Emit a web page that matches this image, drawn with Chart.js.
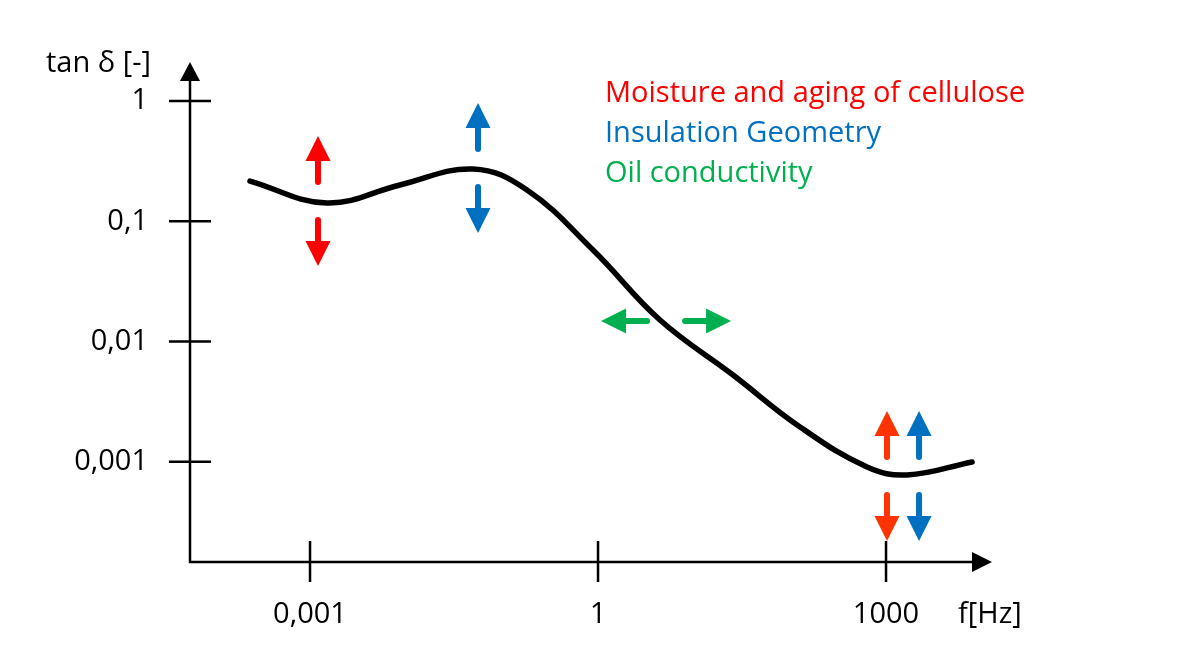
<!DOCTYPE html>
<html><head><meta charset="utf-8">
<script src="https://cdn.jsdelivr.net/npm/chart.js@4/dist/chart.umd.min.js"></script>
<style>html,body{margin:0;padding:0;background:#fff;overflow:hidden}</style>
</head><body>
<canvas id="c" width="1186" height="657" style="display:block;width:1186px;height:657px"></canvas>
<script>
// ---- data ----
const freqHz = [0.000237, 0.0015, 0.00866, 0.0499, 0.182, 0.887, 4.42, 25.5, 127, 634, 1655, 7870];
const tanDelta = [0.216, 0.142, 0.2004, 0.272, 0.182, 0.0577, 0.0151, 0.00527, 0.00195, 0.000907, 0.000778, 0.000998];
const xTickValues = [0.001, 1, 1000];
const xTickLabels = ['0,001', '1', '1000'];
const yTickValues = [0.001, 0.01, 0.1, 1];
const yTickLabels = ['0,001', '0,01', '0,1', '1'];
const xTitle = 'f[Hz]';
const yTitle = 'tan δ [-]';
const legendLabels = ['Moisture and aging of cellulose', 'Insulation Geometry', 'Oil conductivity'];
// influence arrows (centre of each double arrow, in data units)
const arrowFreq = [0.00121, 0.0562, 5.11, 1023, 2207];
const arrowTan = [0.1475, 0.277, 0.01483, 0.000763, 0.000763];
const arrowHorizontal = [false, false, true, false, false];
const arrowFactor = [0, 1, 2, 3, 1];

// ---- styles ----
const FONT = '"Open Sans", "DejaVu Sans", sans-serif';
const factorColors = ['#FF0000', '#0070C0', '#00B050', '#FF3300'];

const overlay = {
  id: 'overlay',
  afterDraw(chart) {
    const { ctx, chartArea: a, scales: { x, y } } = chart;
    ctx.save();
    const x0 = a.left, y0 = a.bottom;
    // axes
    ctx.strokeStyle = '#000'; ctx.lineWidth = 2.5; ctx.lineJoin = 'miter'; ctx.lineCap = 'butt';
    ctx.beginPath();
    ctx.moveTo(x0, a.top + 16); ctx.lineTo(x0, y0); ctx.lineTo(a.right - 16, y0);
    ctx.stroke();
    ctx.fillStyle = '#000';
    ctx.beginPath(); ctx.moveTo(x0, a.top); ctx.lineTo(x0 - 10, a.top + 19); ctx.lineTo(x0 + 10, a.top + 19); ctx.closePath(); ctx.fill();
    ctx.beginPath(); ctx.moveTo(a.right, y0); ctx.lineTo(a.right - 20, y0 - 10); ctx.lineTo(a.right - 20, y0 + 10); ctx.closePath(); ctx.fill();
    // tick marks crossing the axes
    ctx.beginPath();
    yTickValues.forEach(v => { const py = y.getPixelForValue(v); ctx.moveTo(x0 - 21, py); ctx.lineTo(x0 + 21, py); });
    xTickValues.forEach(v => { const px = x.getPixelForValue(v); ctx.moveTo(px, y0 - 21); ctx.lineTo(px, y0 + 20); });
    ctx.stroke();

    // axis titles
    ctx.fillStyle = '#000'; ctx.textBaseline = 'alphabetic'; ctx.textAlign = 'left';
    ctx.font = '29px ' + FONT;
    ctx.fillText(yTitle, 46, 72);
    ctx.fillText(xTitle, 958, 623);

    // legend text
    ctx.font = '29px ' + FONT;
    const w = ctx.measureText(legendLabels[0]).width;
    const size = Math.min(29, 29 * 429 / w);
    ctx.font = size.toFixed(2) + 'px ' + FONT;
    legendLabels.forEach((t, i) => { ctx.fillStyle = factorColors[i]; ctx.fillText(t, 605, 102 + 40 * i); });

    // double arrows
    const gap = 16, len = 65, head = 25, hw = 12.5, sw = 6;
    arrowFreq.forEach((f, i) => {
      const cx = x.getPixelForValue(f), cy = y.getPixelForValue(arrowTan[i]);
      const col = factorColors[arrowFactor[i]];
      const h = arrowHorizontal[i];
      ctx.strokeStyle = col; ctx.fillStyle = col; ctx.lineWidth = sw; ctx.lineCap = 'round';
      [-1, 1].forEach(s => {
        ctx.beginPath();
        if (h) { ctx.moveTo(cx + s * (gap + sw / 2), cy); ctx.lineTo(cx + s * (len - head + 2), cy); }
        else { ctx.moveTo(cx, cy + s * (gap + sw / 2)); ctx.lineTo(cx, cy + s * (len - head + 2)); }
        ctx.stroke();
        ctx.beginPath();
        if (h) { ctx.moveTo(cx + s * len, cy); ctx.lineTo(cx + s * (len - head), cy - hw); ctx.lineTo(cx + s * (len - head), cy + hw); }
        else { ctx.moveTo(cx, cy + s * len); ctx.lineTo(cx - hw, cy + s * (len - head)); ctx.lineTo(cx + hw, cy + s * (len - head)); }
        ctx.closePath(); ctx.fill();
      });
    });
    ctx.restore();
  }
};

function build() {
  new Chart(document.getElementById('c'), {
    type: 'line',
    data: {
      datasets: [{
        data: freqHz.map((f, i) => ({ x: f, y: tanDelta[i] })),
        borderColor: '#000', borderWidth: 5.5, borderCapStyle: 'round',
        pointRadius: 0, tension: 0.4, fill: false
      }]
    },
    options: {
      responsive: false, animation: false, devicePixelRatio: 1,
      layout: { padding: { left: 0, top: 62, right: 194, bottom: 0 } },
      plugins: { legend: { display: false }, tooltip: { enabled: false }, title: { display: false } },
      scales: {
        x: {
          type: 'logarithmic', bounds: 'data', min: 5.62e-5, max: 12700,
          afterBuildTicks: s => { s.ticks = xTickValues.map(v => ({ value: v })); },
          afterFit: s => { s.height = 95; },
          ticks: { callback: (v, i) => xTickLabels[i], font: { family: FONT, size: 29 }, color: '#000', padding: 35, autoSkip: false, maxRotation: 0 },
          grid: { display: false, drawTicks: false }, border: { display: false }
        },
        y: {
          type: 'logarithmic', bounds: 'data', min: 1.47e-4, max: 2.11,
          afterBuildTicks: s => { s.ticks = yTickValues.map(v => ({ value: v })); },
          afterFit: s => { s.width = 190; },
          ticks: { callback: (v, i) => yTickLabels[i], font: { family: FONT, size: 29 }, color: '#000', padding: 42, autoSkip: false },
          grid: { display: false, drawTicks: false }, border: { display: false }
        }
      }
    },
    plugins: [overlay]
  });
}
if (document.fonts && document.fonts.load) {
  document.fonts.load('29px "Open Sans"').then(build, build);
} else build();
</script>
</body></html>
